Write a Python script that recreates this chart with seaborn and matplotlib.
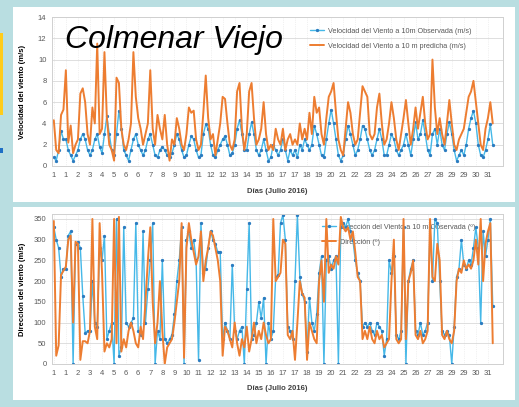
import numpy as np
import pandas as pd
import matplotlib
matplotlib.use('Agg')
import matplotlib.pyplot as plt
from matplotlib.patches import Rectangle
import seaborn as sns

### style
sns.set_style('white')
plt.rcParams['font.family'] = ['Liberation Sans', 'DejaVu Sans']

##########################
### DATA (every 4 hours)
##########################

# x tick labels (day of July 2016), one every 20 hours
day_labels = ['1', '1', '2', '3', '4', '5', '6', '6', '7', '8', '9', '10', '11', '12', '12',
              '13', '14', '15', '16', '17', '17', '18', '19', '20', '21', '22', '23', '23',
              '24', '25', '26', '27', '28', '29', '29', '30', '31']

# wind speed predicted (m/s)
vel_pred = [4.3, 1.5, 1.2, 4.8, 5.3, 9.0, 2.2, 3.8, 1.2, 2.0,
            2.5, 6.8, 7.3, 6.0, 3.0, 2.0, 5.5, 4.0, 11.5, 3.0,
            3.5, 10.7, 4.5, 2.0, 1.5, 0.5, 8.3, 7.8, 3.5, 2.0,
            1.5, 2.5, 4.0, 10.7, 6.5, 4.5, 3.5, 2.0, 3.0, 4.0,
            9.0, 3.5, 2.0, 4.8, 3.5, 2.5, 4.8, 2.0, 0.5, 2.5,
            2.0, 4.5, 3.5, 2.0, 1.5, 3.0, 5.5, 5.0, 5.2, 2.5,
            1.5, 2.0, 5.0, 8.5, 4.5, 2.5, 3.0, 1.0, 2.5, 4.0,
            6.5, 6.3, 4.0, 2.0, 1.5, 2.5, 7.0, 7.8, 3.5, 1.5,
            3.0, 7.0, 7.8, 4.5, 2.0, 2.5, 3.5, 6.0, 3.0, 1.5,
            2.0, 1.5, 3.5, 2.5, 2.0, 3.5, 1.5, 2.5, 3.0, 2.0,
            2.5, 2.0, 4.0, 2.5, 3.5, 2.5, 5.0, 3.0, 6.5, 5.0,
            5.5, 3.0, 2.0, 4.5, 6.5, 7.0, 7.8, 5.0, 2.5, 1.5,
            1.0, 3.5, 6.0, 5.0, 3.0, 2.0, 2.5, 5.0, 7.5, 7.0,
            6.5, 3.0, 2.5, 3.0, 5.5, 6.8, 4.0, 2.0, 2.5, 4.0,
            6.0, 4.5, 2.5, 1.5, 3.0, 4.5, 6.2, 4.0, 2.0, 3.5,
            5.5, 3.5, 5.0, 6.5, 4.0, 2.5, 3.0, 10.0, 5.5, 3.0,
            4.5, 3.0, 2.0, 4.0, 6.2, 4.0, 2.0, 1.5, 2.5, 3.0,
            3.5, 5.0, 6.5, 7.0, 8.0, 6.0, 4.0, 2.0, 1.5, 3.5,
            4.5, 6.0, 4.0]

# wind speed observed (m/s)
vel_obs = [0.8, 0.5, 1.5, 3.3, 2.5, 2.5, 1.5, 1.0, 0.5, 1.0,
           1.5, 2.5, 3.0, 2.5, 1.5, 1.0, 1.5, 2.5, 3.0, 1.8,
           1.2, 3.0, 4.7, 3.0, 1.5, 1.0, 3.0, 5.2, 3.5, 1.5,
           1.0, 0.5, 1.5, 2.5, 3.0, 2.0, 1.5, 1.0, 1.5, 2.5,
           3.0, 2.0, 1.0, 0.8, 1.5, 1.8, 1.5, 1.0, 0.8, 1.2,
           2.0, 3.0, 2.5, 1.5, 0.8, 1.0, 2.0, 2.8, 2.5, 1.5,
           0.8, 1.0, 3.0, 3.9, 3.5, 2.0, 1.0, 0.8, 1.5, 2.0,
           2.5, 2.8, 2.0, 1.0, 1.2, 2.0, 3.5, 4.3, 3.0, 1.5,
           1.5, 3.0, 4.1, 3.0, 1.5, 1.0, 1.5, 2.5, 1.5, 0.5,
           0.8, 2.0, 1.5, 1.0, 1.5, 2.5, 1.5, 0.5, 1.5, 1.0,
           1.5, 0.8, 2.0, 1.5, 2.5, 2.0, 1.5, 2.0, 3.8, 3.0,
           2.0, 1.0, 0.8, 2.5, 4.0, 5.3, 4.0, 2.5, 1.0, 0.5,
           1.0, 2.5, 3.8, 3.0, 2.0, 1.0, 1.5, 2.5, 3.8, 3.5,
           2.5, 1.5, 1.0, 1.5, 2.5, 3.5, 2.5, 1.0, 1.0, 2.0,
           3.0, 2.5, 1.5, 1.0, 1.5, 2.0, 3.0, 2.0, 1.0, 2.5,
           4.1, 2.5, 3.0, 4.3, 3.0, 1.5, 1.0, 3.0, 3.5, 2.0,
           3.5, 2.0, 1.5, 3.0, 4.1, 3.0, 1.5, 0.5, 1.0, 1.5,
           1.0, 2.0, 3.5, 4.5, 5.2, 4.0, 2.0, 1.0, 0.8, 1.5,
           2.5, 3.9, 2.0]

# wind direction predicted (deg)
dir_pred = [345, 20, 45, 215, 225, 235, 300, 310, 100, 295,
            290, 10, 55, 55, 50, 80, 350, 90, 60, 340,
            220, 30, 50, 40, 60, 350, 50, 355, 30, 60,
            40, 80, 100, 80, 50, 40, 90, 60, 150, 250,
            330, 150, 50, 100, 200, 80, 0, 40, 50, 60,
            100, 150, 200, 340, 15, 280, 340, 300, 270, 240,
            260, 320, 200, 250, 280, 320, 310, 280, 250, 200,
            20, 90, 80, 60, 40, 100, 50, 20, 60, 40,
            90, 30, 60, 100, 50, 80, 60, 100, 70, 50,
            60, 350, 200, 210, 220, 300, 290, 70, 60, 80,
            10, 100, 200, 170, 160, 10, 100, 80, 60, 50,
            200, 250, 150, 350, 220, 240, 230, 260, 240, 355,
            330, 320, 330, 300, 320, 270, 210, 200, 60, 80,
            60, 90, 60, 50, 80, 60, 70, 40, 50, 60,
            200, 300, 60, 50, 60, 350, 60, 200, 220, 250,
            70, 60, 80, 50, 60, 80, 350, 210, 200, 290,
            250, 70, 60, 80, 60, 50, 80, 200, 230, 220,
            250, 230, 240, 230, 250, 300, 240, 350, 200, 290,
            320, 340, 50]

# wind direction observed (deg)
dir_obs = [330, 300, 280, 210, 230, 230, 310, 320, 0, 290,
           295, 280, 165, 75, 80, 80, 200, 100, 90, 280,
           250, 310, 60, 80, 100, 0, 350, 20, 40, 330,
           100, 90, 100, 110, 340, 80, 70, 320, 100, 180,
           250, 340, 0, 80, 60, 250, 60, 50, 60, 70,
           120, 200, 250, 330, 0, 300, 320, 280, 300, 250,
           10, 340, 220, 230, 280, 320, 300, 290, 270, 270,
           60, 100, 80, 60, 240, 80, 60, 80, 90, 0,
           180, 340, 60, 70, 100, 150, 110, 160, 0, 100,
           60, 80, 210, 215, 340, 360, 300, 90, 80, 60,
           200, 360, 210, 170, 150, 30, 160, 100, 80, 120,
           220, 260, 0, 250, 260, 230, 250, 260, 0, 330,
           340, 330, 350, 320, 300, 250, 220, 200, 90, 100,
           90, 100, 80, 70, 100, 90, 80, 20, 60, 250,
           220, 260, 70, 60, 80, 330, 0, 200, 230, 250,
           80, 70, 100, 70, 80, 100, 330, 200, 350, 340,
           200, 80, 70, 80, 70, 0, 90, 210, 230, 300,
           240, 230, 250, 240, 280, 330, 280, 100, 320, 260,
           300, 350, 140]

hours = np.arange(len(vel_pred)) * 4
tick_pos = np.arange(len(day_labels)) * 20

speed_df = pd.DataFrame({'hora': hours, 'obs': vel_obs, 'pred': vel_pred})
dir_df = pd.DataFrame({'hora': hours, 'obs': dir_obs, 'pred': dir_pred})

BLUE = '#45b8e8'
BLUE_DOT = '#2b7cc0'
ORANGE = '#ed7d31'
GREY = '#595959'

W, H = 519, 407


def px_axes(fig, l, t, r, b):
    ''' axes from pixel box (left, top, right, bottom) '''
    return fig.add_axes([l / W, 1 - b / H, (r - l) / W, (b - t) / H])


def px_rect(fig, l, t, r, b, color):
    fig.add_artist(Rectangle((l / W, 1 - b / H), (r - l) / W, (b - t) / H,
                             transform=fig.transFigure, facecolor=color,
                             edgecolor='none', zorder=0))


def style_axes(ax, ymax, ystep, ylabel):
    ax.set_xlim(-3, 745)
    ax.set_ylim(0, ymax)
    ax.set_yticks(np.arange(0, ymax + 0.1, ystep))
    ax.set_xticks(tick_pos)
    ax.set_xticklabels(day_labels)
    ax.tick_params(axis='both', labelsize=5.5, colors=GREY, length=0, pad=4)
    ax.grid(axis='y', color='#d9d9d9', linewidth=0.6)
    ax.grid(axis='x', color='#e3e3e3', linewidth=0.5, linestyle=':')
    for s in ax.spines.values():
        s.set_color('#d0d0d0')
        s.set_linewidth(0.7)
    ax.set_xlabel('Días (Julio 2016)', fontsize=5.5, fontweight='bold', color='#404040')
    ax.set_ylabel(ylabel, fontsize=5.5, fontweight='bold', color='black')
    ax.yaxis.set_label_coords(-0.058, 0.5)


fig = plt.figure(figsize=(W / 100, H / 100), dpi=100, facecolor='#b9dee1')

# white panels and decoration on the left edge
px_rect(fig, 13, 7, 515, 202, 'white')
px_rect(fig, 13, 207, 515, 400, 'white')
px_rect(fig, 0, 33, 3, 115, '#ffcc1a')
px_rect(fig, 0, 148, 3, 153, '#1f6fc5')

### top chart: speed
ax1 = px_axes(fig, 52, 17, 503, 166)
sns.lineplot(data=speed_df, x='hora', y='obs', ax=ax1, color=BLUE, linewidth=1.0,
             marker='o', markersize=1.6, markerfacecolor=BLUE_DOT, markeredgecolor=BLUE_DOT,
             label='Velocidad del Viento a 10m Observada (m/s)')
sns.lineplot(data=speed_df, x='hora', y='pred', ax=ax1, color=ORANGE, linewidth=1.4,
             label='Velocidad del Viento a 10 m predicha (m/s)')
style_axes(ax1, 14, 2, 'Velocidad del viento (m/s)')
ax1.xaxis.set_label_coords(0.5, -0.148)
leg1 = ax1.legend(loc='upper left', bbox_to_anchor=(303 / W, 1 - 21 / H),
                  bbox_transform=fig.transFigure, frameon=False, fontsize=5.2,
                  handlelength=2.0, labelspacing=1.1, handletextpad=0.5)
for t in leg1.get_texts():
    t.set_color(GREY)

### bottom chart: direction
ax2 = px_axes(fig, 52, 214, 503, 364)
sns.lineplot(data=dir_df, x='hora', y='obs', ax=ax2, color=BLUE, linewidth=1.0,
             marker='o', markersize=1.6, markerfacecolor=BLUE_DOT, markeredgecolor=BLUE_DOT,
             label='Dirección del Viento a 10 m Observada (º)')
sns.lineplot(data=dir_df, x='hora', y='pred', ax=ax2, color=ORANGE, linewidth=1.4,
             label='Dirección (º)')
style_axes(ax2, 360, 50, 'Dirección del viento (m/s)')
ax2.set_ylim(0, 362)
ax2.set_yticks(np.arange(0, 351, 50))
ax2.xaxis.set_label_coords(0.5, -0.14)
leg2 = ax2.legend(loc='upper left', bbox_to_anchor=(315 / W, 1 - 217 / H),
                  bbox_transform=fig.transFigure, frameon=False, fontsize=5.2,
                  handlelength=2.0, labelspacing=1.1, handletextpad=0.5)
leg2.set_zorder(1)
for t in leg2.get_texts():
    t.set_color(GREY)

# title over the top chart
fig.text(65 / W, 1 - 40 / H, 'Colmenar Viejo', fontsize=23, fontstyle='italic',
         color='black', va='center', ha='left')

fig.savefig('out.png', dpi=100, facecolor=fig.get_facecolor())
